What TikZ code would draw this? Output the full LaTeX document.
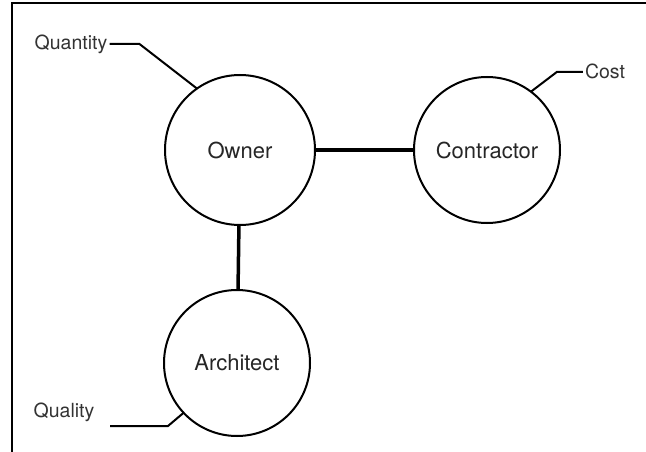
\documentclass[tikz,border=0pt]{standalone}
\usepackage{fontspec}
\setmainfont{TeX Gyre Heros}
\tikzset{
	party/.style={draw=black, line width=2pt, circle, minimum size=146pt, inner sep=0pt, outer sep=0pt,
		text=black!85, font=\fontsize{22}{26}\selectfont},
	tag/.style={text=black!80, inner sep=2pt, font=\fontsize{19.5}{23}\selectfont},
	link/.style={line width=3.5pt},
	lead/.style={line width=2pt}
}

\begin{document}
\begin{tikzpicture}[x=1pt, y=-1pt]
		\useasboundingbox (0,0) rectangle (646,452);
		% frame
		\draw [line width=2.5pt] (12,452) -- (12,3) -- (646,3);
		
		\node[party, minimum size=150pt] (owner) at (240,150) {Owner};
		\node[party] (contractor) at (487,150) {Contractor};
		\node[party] (architect) at (237,363) {Architect};
		
		\draw [link] (owner) -- (contractor);
		\draw [link] (owner) -- (architect);
		
		\node[tag] (quantity) at (71,44) {Quantity};
		\node[tag] (cost) at (605,71) {Cost};
		\node[tag] (quality) at (64,412) {Quality};
		\coordinate (qualityend) at (110,426);
		
		\draw [lead] (quantity.east) -- ++(30,0) -- (owner.125);
		\draw [lead] ([yshift=-1pt]cost.west) -- ++(-26,0) -- (contractor.53);
		\draw [lead] (qualityend) -- ++(58,0) -- (architect.223);
		
\end{tikzpicture}
\end{document}
